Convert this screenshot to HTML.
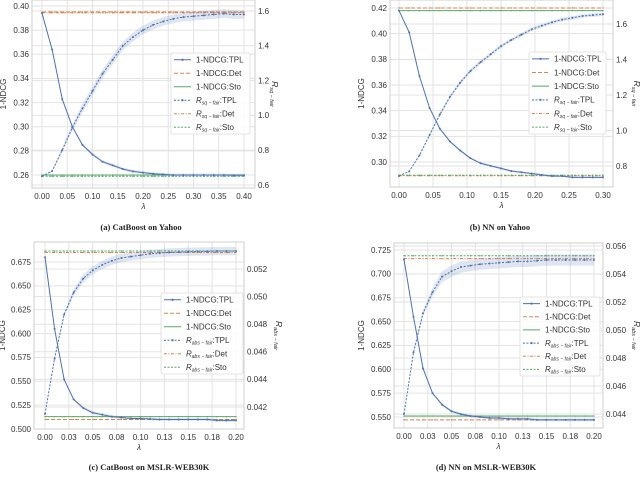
<!DOCTYPE html>
<html><head><meta charset="utf-8"><style>
body{margin:0;background:#fff;width:640px;height:477px;overflow:hidden;font-family:"Liberation Sans","DejaVu Sans",sans-serif}
svg{position:absolute;left:0;top:0}
</style></head><body>
<svg id="fig" width="640" height="477" viewBox="0 0 640 477"></svg>
<script>
// ---------- data ----------
const lamA=[0,0.02,0.04,0.06,0.08,0.10,0.12,0.14,0.16,0.18,0.20,0.22,0.24,0.26,0.28,0.30,0.32,0.34,0.36,0.38,0.40];
const ndcgA=[0.394,0.364,0.323,0.300,0.285,0.277,0.271,0.268,0.265,0.263,0.262,0.261,0.2605,0.260,0.260,0.260,0.260,0.260,0.260,0.2598,0.2598];
const fairA=[0.65,0.68,0.80,0.93,1.04,1.14,1.24,1.32,1.40,1.45,1.49,1.52,1.54,1.555,1.565,1.57,1.575,1.58,1.585,1.58,1.58];
const detA=[0.395,0.260,1.59,0.65];
const lamB=[0,0.015,0.03,0.045,0.06,0.075,0.09,0.105,0.12,0.135,0.15,0.165,0.18,0.195,0.21,0.225,0.24,0.255,0.27,0.285,0.30];
const ndcgB=[0.418,0.401,0.367,0.342,0.326,0.316,0.309,0.303,0.299,0.297,0.295,0.293,0.292,0.291,0.290,0.289,0.289,0.288,0.288,0.288,0.288];
const fairB=[0.744,0.77,0.86,0.975,1.09,1.19,1.27,1.335,1.385,1.43,1.475,1.51,1.54,1.57,1.59,1.61,1.625,1.635,1.645,1.65,1.655];
const detB=[0.420,0.418,0.745,0.748];
const lamC=[0,0.01,0.02,0.03,0.04,0.05,0.06,0.07,0.08,0.09,0.10,0.11,0.12,0.13,0.14,0.15,0.16,0.17,0.18,0.19,0.20];
const ndcgC=[0.680,0.605,0.552,0.531,0.522,0.517,0.515,0.513,0.512,0.511,0.511,0.5105,0.510,0.510,0.510,0.510,0.510,0.510,0.509,0.509,0.509];
const fairC=[0.0415,0.0455,0.0487,0.0503,0.0513,0.0519,0.0523,0.0526,0.0528,0.0529,0.0530,0.0531,0.05315,0.0532,0.05322,0.05325,0.05327,0.05328,0.0533,0.0533,0.0533];
const detC=[0.510,0.513,0.0532,0.0533];
const lamD=lamC;
const ndcgD=[0.715,0.655,0.601,0.575,0.563,0.556,0.553,0.551,0.550,0.549,0.549,0.548,0.548,0.548,0.547,0.547,0.547,0.547,0.547,0.547,0.547];
const fairD=[0.0440,0.0484,0.0512,0.0527,0.0538,0.0542,0.0545,0.0546,0.0547,0.05475,0.0548,0.05485,0.0549,0.0549,0.05495,0.0550,0.0550,0.0550,0.0550,0.0550,0.0550];
const detD=[0.547,0.551,0.0551,0.0553];
const xtA=[0,0.05,0.10,0.15,0.20,0.25,0.30,0.35,0.40];
const xtB=[0,0.05,0.10,0.15,0.20,0.25,0.30];
const xtC=[0,0.025,0.05,0.075,0.10,0.125,0.15,0.175,0.20];
const xtCLabels=['0.00','0.03','0.05','0.08','0.10','0.13','0.15','0.18','0.20'];
const ltA=[0.26,0.28,0.30,0.32,0.34,0.36,0.38,0.40], rtA=[0.6,0.8,1.0,1.2,1.4,1.6];
const ltB=[0.30,0.32,0.34,0.36,0.38,0.40,0.42], rtB=[0.8,1.0,1.2,1.4,1.6];
const ltC=[0.500,0.525,0.550,0.575,0.600,0.625,0.650,0.675], rtC=[0.042,0.044,0.046,0.048,0.050,0.052];
const ltD=[0.550,0.575,0.600,0.625,0.650,0.675,0.700,0.725], rtD=[0.044,0.046,0.048,0.050,0.052,0.054,0.056];

const NS="http://www.w3.org/2000/svg";
const svg=document.getElementById('fig');
const BLUE="#4c72b0",ORANGE="#dd8452",GREEN="#55a868";
const FS=8;
function mk(tag,attrs,parent){const e=document.createElementNS(NS,tag);for(const k in attrs)e.setAttribute(k,attrs[k]);(parent||svg).appendChild(e);return e;}
function lin(d0,d1,p0,p1){return v=>p0+(v-d0)/(d1-d0)*(p1-p0);}

function panel(cfg){
  const g=mk('g',{});
  
  
  const [bx0,bx1,by0,by1]=cfg.box;
  const X=lin(cfg.xd[0],cfg.xd[1],cfg.xp[0],cfg.xp[1]);
  const YL=lin(cfg.ld[0],cfg.ld[1],cfg.lp[0],cfg.lp[1]);
  const YR=lin(cfg.rd[0],cfg.rd[1],cfg.rp[0],cfg.rp[1]);
  cfg.xt.forEach(v=>{const l=mk('line',{x1:X(v),x2:X(v),y1:by0,y2:by1,stroke:'#e3e3e3','stroke-width':1},g);});
  cfg.lt.forEach(v=>{const l=mk('line',{x1:bx0,x2:bx1,y1:YL(v),y2:YL(v),stroke:'#e3e3e3','stroke-width':1},g);});
  cfg.rt.forEach(v=>{const l=mk('line',{x1:bx0,x2:bx1,y1:YR(v),y2:YR(v),stroke:'#e3e3e3','stroke-width':1},g);});
  const fr=mk('rect',{x:bx0,y:by0,width:bx1-bx0,height:by1-by0,fill:'none',stroke:'#cfcfcf','stroke-width':1},g);
  
  cfg.xt.forEach((v,i)=>{const t=mk('text',{x:X(v),y:by1+11,'font-size':FS,'text-anchor':'middle',fill:'#333'},g);t.textContent=cfg.xl?cfg.xl[i]:v.toFixed(2);});
  cfg.lt.forEach(v=>{const t=mk('text',{x:bx0-3,y:YL(v)+2.8,'font-size':FS,'text-anchor':'end',fill:'#333'},g);t.textContent=v.toFixed(cfg.ldec);});
  cfg.rt.forEach(v=>{const t=mk('text',{x:bx1+3,y:YR(v)+2.8,'font-size':FS,'text-anchor':'start',fill:'#333'},g);t.textContent=v.toFixed(cfg.rdec);});
  const xl=mk('text',{x:(bx0+bx1)/2,y:by1+21,'font-size':8,'font-style':'italic','text-anchor':'middle',fill:'#333'},g);xl.textContent='λ';
  
  const ylx=cfg.ylx, ymid=(by0+by1)/2;
  const yl=mk('text',{x:ylx,y:ymid,'font-size':FS,'text-anchor':'middle',fill:'#333',transform:`rotate(-90 ${ylx} ${ymid})`},g);yl.textContent='1-NDCG';
  
  const yrx=cfg.yrx;
  const yr=mk('text',{x:yrx,y:ymid,'font-size':8.5,'text-anchor':'middle',fill:'#333',transform:`rotate(90 ${yrx} ${ymid})`},g);
  yr.innerHTML=`<tspan font-style="italic">R</tspan><tspan font-size="5.5" dy="2" font-style="italic">${cfg.sub}</tspan>`;
  
  const consts=[[YL(cfg.det[0]),ORANGE,'4,2'],[YL(cfg.det[1]),GREEN,''],[YR(cfg.det[2]),ORANGE,'3,1.5,1,1.5'],[YR(cfg.det[3]),GREEN,'2,1.5']];
  consts.forEach(c=>{const l=mk('line',{x1:X(cfg.lam[0]),x2:X(cfg.lam[cfg.lam.length-1]),y1:c[0],y2:c[0],stroke:c[1],'stroke-width':1,'stroke-dasharray':c[2]},g);
    cfg.lam.forEach(v=>{const m=mk('circle',{cx:X(v),cy:c[0],r:0.7,fill:c[1]},g);});});
  function series(vals,Y,band,dash,nm){
    let up='';
    cfg.lam.forEach((v,i)=>{const b=band*Math.min(1,i/4);up+=(i?'L':'M')+X(v)+','+Y(vals[i]+b);});
    for(let i=cfg.lam.length-1;i>=0;i--){const b=band*Math.min(1,i/4);up+='L'+X(cfg.lam[i])+','+Y(vals[i]-b);}
    const bp=mk('path',{d:up+'Z',fill:BLUE,'fill-opacity':0.18,stroke:'none'},g);
    const d=cfg.lam.map((v,i)=>(i?'L':'M')+X(v)+','+Y(vals[i])).join('');
    const p=mk('path',{d:d,fill:'none',stroke:BLUE,'stroke-width':1,'stroke-dasharray':dash},g);
    cfg.lam.forEach((v,i)=>{const c=mk('circle',{cx:X(v),cy:Y(vals[i]),r:1,fill:BLUE},g);});
  }
  series(cfg.ndcg,YL,cfg.bandL,'','ndcg-tpl');
  series(cfg.fair,YR,cfg.bandR,'2,1.5','fair-tpl');
  const [lx0,lx1,ly0,ly1]=cfg.leg;
  const lg=mk('g',{},g);
  mk('rect',{x:lx0,y:ly0,width:lx1-lx0,height:ly1-ly0,fill:'#fff','fill-opacity':0.85,stroke:'#ddd','stroke-width':0.8,rx:1.5},lg);
  const ents=[[BLUE,'','1-NDCG:TPL',true],[ORANGE,'4,2','1-NDCG:Det',false],[GREEN,'','1-NDCG:Sto',false],[BLUE,'2,1.5','R',true],[ORANGE,'3,1.5,1,1.5','R',false],[GREEN,'2,1.5','R',false]];
  const labs=['TPL','Det','Sto'];
  const step=(ly1-ly0)/6;
  ents.forEach((e,i)=>{const y=ly0+step*(i+0.5);
    const eg=mk('g',{},lg);
    mk('line',{x1:lx0+3,x2:lx0+20,y1:y,y2:y,stroke:e[0],'stroke-width':1,'stroke-dasharray':e[1]},eg);
    if(e[3])mk('circle',{cx:lx0+11.5,cy:y,r:1.1,fill:e[0]},eg);
    const t=mk('text',{x:lx0+25,y:y+2.8,'font-size':FS,fill:'#333'},eg);
    if(i<3)t.textContent=e[2];
    else t.innerHTML=`<tspan font-style="italic">R</tspan><tspan font-size="5" dy="1.5" font-style="italic">${cfg.sub}</tspan><tspan dy="-1.5">:${labs[i-3]}</tspan>`;
  });
  const cp=mk('text',{x:cfg.cap[0],y:cfg.cap[1],'font-size':8.5,'font-weight':'bold','text-anchor':'middle',fill:'#222','font-family':'"Liberation Serif",serif'},g);
  cp.innerHTML=cfg.capText;
}

panel({name:'panel-a',box:[32,255,0,188],xd:[0,0.4],xp:[42,244],ld:[0.40,0.26],lp:[6,175],rd:[1.6,0.6],rp:[11,185],
  xt:xtA,lt:ltA,rt:rtA,ldec:2,rdec:1,lam:lamA,ndcg:ndcgA,fair:fairA,det:detA,bandL:0.0012,bandR:0.025,sub:'sq − fair',
  ylx:6,yrx:272,leg:[171,250,53,134],cap:[141,230],capText:'(a) CatBoost on Yahoo'});
panel({name:'panel-b',box:[390,613,0,187],xd:[0,0.3],xp:[399,603],ld:[0.42,0.30],lp:[8,162],rd:[1.6,0.8],rp:[24,166],
  xt:xtB,lt:ltB,rt:rtB,ldec:2,rdec:1,lam:lamB,ndcg:ndcgB,fair:fairB,det:detB,bandL:0.0008,bandR:0.01,sub:'sq − fair',
  ylx:364,yrx:634,leg:[529,606,52,134],cap:[500,230],capText:'(b) NN on Yahoo'});
panel({name:'panel-c',box:[34,244,242,429],xd:[0,0.2],xp:[45,236],ld:[0.675,0.500],lp:[262,429],rd:[0.052,0.042],rp:[269,407],
  xt:xtC,xl:xtCLabels,lt:ltC,rt:rtC,ldec:3,rdec:3,lam:lamC,ndcg:ndcgC,fair:fairC,det:detC,bandL:0.0015,bandR:0.0003,sub:'abs − fair',
  ylx:5,yrx:276,leg:[161,243,293,374],cap:[149,470],capText:'(c) CatBoost on MSLR-WEB30K'});
panel({name:'panel-d',box:[394,603,243,428],xd:[0,0.2],xp:[404,594],ld:[0.725,0.550],lp:[250,417],rd:[0.056,0.044],rp:[246,414],
  xt:xtC,xl:xtCLabels,lt:ltD,rt:rtD,ldec:3,rdec:3,lam:lamD,ndcg:ndcgD,fair:fairD,det:detD,bandL:0.0015,bandR:0.0004,sub:'abs − fair',
  ylx:364,yrx:634,leg:[520,600,297,376],cap:[486,470],capText:'(d) NN on MSLR-WEB30K'});
</script>
</body></html>
